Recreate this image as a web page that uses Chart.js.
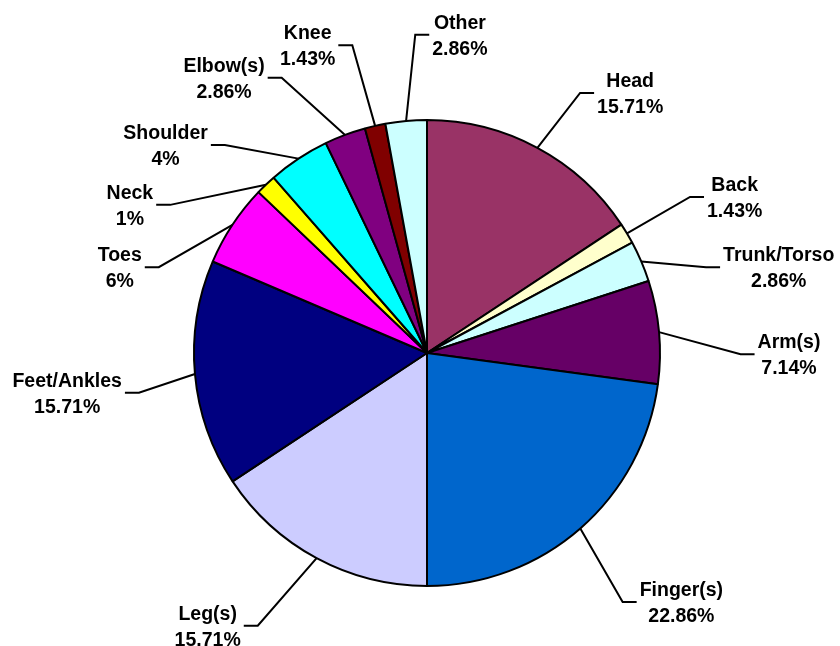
<!DOCTYPE html>
<html>
<head>
<meta charset="utf-8">
<script src="https://cdn.jsdelivr.net/npm/chart.js@4.4.1/dist/chart.umd.min.js"></script>
<style>
    body { margin: 0; background: #fff; }
    #wrap { width: 840px; height: 646px; position: relative; }
</style>
</head>
<body>
<div id="wrap"><canvas id="injury-chart"></canvas></div>
<script>
// Injury locations, clockwise from the top
let categories = ['Head', 'Back', 'Trunk/Torso', 'Arm(s)', 'Finger(s)', 'Leg(s)', 'Feet/Ankles',
    'Toes', 'Neck', 'Shoulder', 'Elbow(s)', 'Knee', 'Other'];

// Slice sizes, in percent
let percents = [15.71, 1.43, 2.86, 7.14, 22.86, 15.71, 15.71, 5.71, 1.43, 4.29, 2.86, 1.43, 2.86];

// Percent text as printed next to each slice
let percentLabels = ['15.71%', '1.43%', '2.86%', '7.14%', '22.86%', '15.71%', '15.71%',
    '6%', '1%', '4%', '2.86%', '1.43%', '2.86%'];

// Slice fill colors
let sliceColors = ['#993366', '#FFFFCC', '#CCFFFF', '#660066', '#0066CC', '#CCCCFF', '#000080',
    '#FF00FF', '#FFFF00', '#00FFFF', '#800080', '#800000', '#CCFFFF'];

// Where each label block sits: angle (degrees clockwise from top) and gap beyond the pie edge
let labelPlacement = [[38, 97], [63.1, 112], [76.3, 129], [90.2, 129], [134.4, 123], [218.8, 117],
    [263.7, 129], [285.6, 86], [296.5, 99], [308.5, 101], [323.6, 109], [338.8, 97], [5.9, 87]];

const labelFont = 'bold 19.5px "Liberation Sans", Arial, sans-serif';

// Draws the outside labels with their bent leader lines
const outsideLabels = {
    id: 'outsideLabels',
    afterDatasetsDraw(chart) {
        const ctx = chart.ctx;
        const arcs = chart.getDatasetMeta(0).data;
        ctx.save();
        ctx.font = labelFont;
        ctx.fillStyle = '#000';
        ctx.strokeStyle = '#000';
        ctx.lineWidth = 2;
        ctx.textAlign = 'center';
        ctx.textBaseline = 'alphabetic';

        arcs.forEach((arc, i) => {
            const mid = (arc.startAngle + arc.endAngle) / 2;
            const R = arc.outerRadius;
            const edgeX = arc.x + Math.cos(mid) * R;
            const edgeY = arc.y + Math.sin(mid) * R;

            const a = labelPlacement[i][0] * Math.PI / 180 - Math.PI / 2;
            const d = R + labelPlacement[i][1];
            const cx = arc.x + Math.cos(a) * d;
            const cy = arc.y + Math.sin(a) * d;

            const line1 = categories[i];
            const line2 = percentLabels[i];
            const w = Math.max(ctx.measureText(line1).width, ctx.measureText(line2).width);

            let segEnd, elbow;
            if (cx < arc.x) {
                segEnd = cx + w / 2 + 3;
                elbow = segEnd + 14;
            } else {
                segEnd = cx - w / 2 - 3;
                elbow = segEnd - 14;
            }

            ctx.beginPath();
            ctx.moveTo(edgeX, edgeY);
            ctx.lineTo(elbow, cy);
            ctx.lineTo(segEnd, cy);
            ctx.stroke();

            ctx.fillText(line1, cx, cy - 6);
            ctx.fillText(line2, cx, cy + 20);
        });
        ctx.restore();
    }
};

let injuryChart = new Chart(document.getElementById('injury-chart'),
    {
        type: 'pie',
        data: {
            labels: categories,
            datasets: [
                {
                    data: percents,
                    backgroundColor: sliceColors,
                    borderColor: '#000',
                    borderWidth: 2
                }
            ]
        },
        options: {
            responsive: true,
            maintainAspectRatio: false,
            animation: false,
            layout: { padding: { top: 119, bottom: 59, left: 104, right: 90 } },
            plugins: {
                legend: { display: false },
                tooltip: { enabled: false }
            }
        },
        plugins: [outsideLabels]
    }
);
</script>
</body>
</html>
